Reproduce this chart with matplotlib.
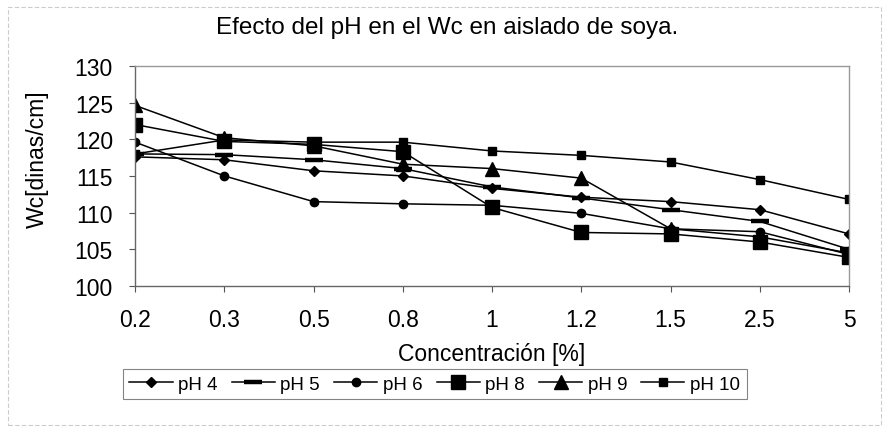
import matplotlib
matplotlib.use("Agg")
import matplotlib.pyplot as plt
from matplotlib.patches import Rectangle

# Concentration categories and surface-tension values (dinas/cm) per pH
concentracion = ["0.2", "0.3", "0.5", "0.8", "1", "1.2", "1.5", "2.5", "5"]
ph4 = [117.6, 117.2, 115.7, 115.0, 113.3, 112.1, 111.5, 110.4, 107.1]
ph5 = [118.0, 117.9, 117.2, 116.0, 113.5, 112.0, 110.4, 108.8, 105.0]
ph6 = [119.6, 115.0, 111.5, 111.2, 111.0, 109.9, 107.8, 107.4, 104.3]
ph8 = [122.0, 119.7, 119.3, 118.3, 110.7, 107.3, 107.1, 106.0, 103.9]
ph9 = [124.6, 120.2, 119.1, 116.6, 116.0, 114.7, 107.8, 106.7, 104.5]
ph10 = [118.0, 119.9, 119.6, 119.6, 118.4, 117.8, 116.9, 114.5, 111.8]
y_ticks = [100, 105, 110, 115, 120, 125, 130]

plt.rcParams["font.family"] = ["Liberation Sans", "DejaVu Sans"]

fig = plt.figure(figsize=(8.89, 4.31), dpi=100)
ax = fig.add_axes([0.152, 0.334, 0.803, 0.511])

x = list(range(len(concentracion)))
series = [
    ("pH 4", ph4, dict(marker="D", markersize=5)),
    ("pH 5", ph5, dict(marker="_", markersize=13, markeredgewidth=3.2)),
    ("pH 6", ph6, dict(marker="o", markersize=6)),
    ("pH 8", ph8, dict(marker="s", markersize=9.5)),
    ("pH 9", ph9, dict(marker="^", markersize=10)),
    ("pH 10", ph10, dict(marker="s", markersize=5.5)),
]
for name, vals, style in series:
    ax.plot(x, vals, color="black", linewidth=1.1, label=name,
            markerfacecolor="black", markeredgecolor="black", **style)

ax.set_xlim(0, len(concentracion) - 1)
ax.set_ylim(100, 130)
ax.set_xticks(x)
ax.set_xticklabels(concentracion)
ax.set_yticks(y_ticks)
ax.tick_params(axis="both", direction="out", length=4, width=0.8,
               colors="#555555", labelcolor="black", labelsize=16.5)
ax.tick_params(axis="x", pad=12)
ax.tick_params(axis="y", pad=12)

for side in ("left", "bottom"):
    ax.spines[side].set_color("#666666")
    ax.spines[side].set_linewidth(1.0)
for side in ("top", "right"):
    ax.spines[side].set_color("#999999")
    ax.spines[side].set_linewidth(1.0)

fig.text(0.503, 0.935, "Efecto del pH en el Wc en aislado de soya.",
         fontsize=17.5, ha="center", va="center")
ax.set_xlabel("Concentración [%]", fontsize=16.5, labelpad=8)
ax.set_ylabel("Wc[dinas/cm]", fontsize=16.5)
ax.yaxis.set_label_coords(-0.121, 0.58)

leg = fig.legend(loc="center", bbox_to_anchor=(0.489, 0.106), ncol=6,
                 fontsize=13.5, frameon=True, fancybox=False, handlelength=2.3,
                 handletextpad=0.3, columnspacing=0.75, borderpad=0.35)
leg.get_frame().set_edgecolor("#666666")
leg.get_frame().set_linewidth(0.8)

# Light outer border around the whole chart area
fig.add_artist(Rectangle((0.009, 0.012), 0.982, 0.97, transform=fig.transFigure,
                         fill=False, edgecolor="#cccccc", linewidth=0.8,
                         linestyle=(0, (4, 2))))

fig.savefig("out.png", dpi=100)
